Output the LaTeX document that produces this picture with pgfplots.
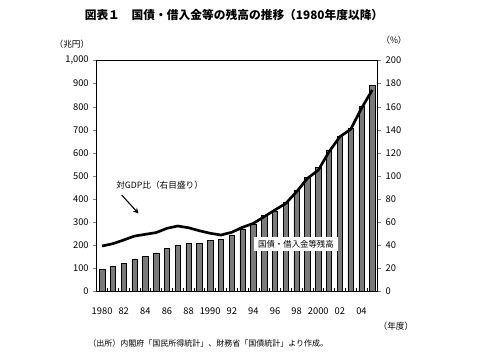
\documentclass[border=0pt]{standalone}
\usepackage{pgfplots}
\pgfplotsset{compat=1.18}
\usepackage{fontspec}
\setmainfont{Noto Sans CJK JP}
\begin{document}
\begin{tikzpicture}[x=0.75pt,y=-0.75pt]
\path[use as bounding box,fill=white] (0,0) rectangle (480,360);
\begin{axis}[
  at={(72.525pt,-218.625pt)}, anchor=south west,
  scale only axis, width=210.75pt, height=173.25pt,
  xmin=1979.5, xmax=2005.5, ymin=0, ymax=1000,
  axis line style={black, line width=0.5pt},
  xtick={1980,1982,...,2004},
  xticklabels={1980,82,84,86,88,1990,92,94,96,98,2000,02,04},
  major x tick style={draw=none},
  minor xtick={1980.5,1981.5,...,2004.5},
  minor tick length=2.5pt,
  minor x tick style={yshift=2.5pt, black, line width=0.4pt},
  xtick pos=bottom, ytick pos=left,
  tick align=outside, major tick length=2.5pt,
  ytick={0,100,...,1000},
  yticklabels={0,100,200,300,400,500,600,700,800,900,{1,000}},
  tick label style={font=\fontsize{7}{8}\selectfont},
  xticklabel style={yshift=-6pt},
  /pgf/number format/assume math mode=true,
]
\addplot[ybar, bar width=0.5, fill=black!52, draw=black, line width=0.4pt] coordinates {
(1980,96) (1981,110) (1982,122) (1983,141) (1984,152) (1985,167) (1986,188) (1987,198)
(1988,207) (1989,209) (1990,220) (1991,227) (1992,245) (1993,271) (1994,292) (1995,328)
(1996,348) (1997,387) (1998,439) (1999,494) (2000,538) (2001,613) (2002,670) (2003,706)
(2004,800) (2005,891)};
\end{axis}
\begin{axis}[
  at={(72.525pt,-218.625pt)}, anchor=south west,
  scale only axis, width=210.75pt, height=173.25pt,
  xmin=1979.5, xmax=2005.5, ymin=0, ymax=200,
  hide x axis,
  axis y line*=right,
  axis line style={black, line width=0.5pt},
  ytick={0,20,...,200},
  tick align=outside, major tick length=2.5pt,
  tick label style={font=\fontsize{7}{8}\selectfont},
  /pgf/number format/assume math mode=true,
]
\addplot[black, line width=2pt, line join=round] coordinates {
(1980,39.4) (1981,41.4) (1982,44.6) (1983,48) (1984,49.5) (1985,51) (1986,54.7) (1987,56.7)
(1988,55.2) (1989,52.6) (1990,50.4) (1991,48.9) (1992,51.3) (1993,55.6) (1994,59) (1995,64.8)
(1996,70.6) (1997,76.3) (1998,86.4) (1999,98) (2000,105) (2001,121) (2002,134) (2003,140.4)
(2004,158.6) (2005,174.5)};
\end{axis}
\node[fill=white, inner xsep=3pt, inner ysep=2pt, font=\fontsize{6.3}{7}\selectfont] at (296,244) {国債・借入金等残高};
\node[anchor=west, font=\fontsize{6.5}{7}\selectfont, inner sep=0pt] at (116,185) {対GDP比（右目盛り）};
\draw[-stealth, line width=0.8pt] (121.7,195) -- (138.5,213.5);
\node[font=\bfseries\fontsize{8.8}{10}\selectfont] at (234,15) {図表１　国債・借入金等の残高の推移（1980年度以降）};
\node[font=\fontsize{6.5}{7}\selectfont] at (72,44) {（兆円）};
\node[font=\fontsize{6.5}{7}\selectfont] at (394,40) {（\%）};
\node[font=\fontsize{6.5}{7}\selectfont] at (396,326) {（年度）};
\node[anchor=west, font=\fontsize{6}{7}\selectfont, inner sep=0pt] at (88,343) {（出所）内閣府「国民所得統計」、財務省「国債統計」より作成。};
\end{tikzpicture}
\end{document}
